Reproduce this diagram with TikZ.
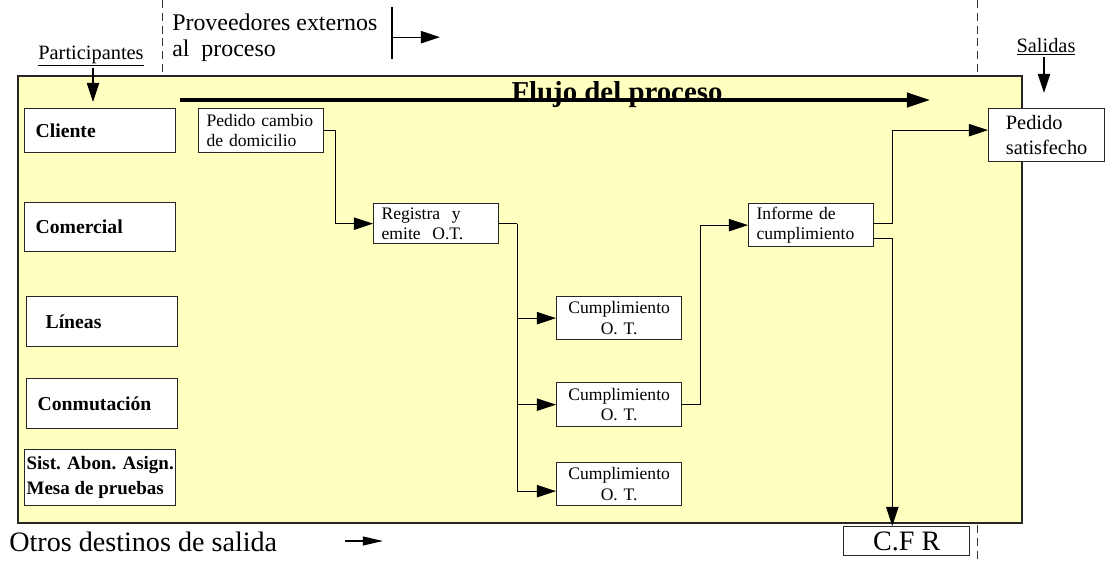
\documentclass[tikz,border=0pt]{standalone}
\usepackage{fontspec}
\setmainfont{Liberation Serif}
\usepackage{tikz}
\usetikzlibrary{positioning}
\usetikzlibrary{calc}
\usetikzlibrary{arrows.meta}
\definecolor{amarillo}{RGB}{255,255,192}

\begin{document}
\begin{tikzpicture}[x=0.025cm, y=-0.025cm,
    caja/.style={draw=black!85, line width=0.9pt, fill=white, anchor=north west, inner ysep=0pt},
    participante/.style={caja, font=\bfseries\fontsize{14}{17}\selectfont, align=left, inner xsep=0.275cm, text width=3.225cm},
    paso/.style={caja, font=\fontsize{12.5}{14.5}\selectfont, align=left, inner xsep=0.2cm, text width=2.725cm, minimum height=1.1cm},
    flecha/.style={line width=0.85pt, -{Triangle[length=0.48cm,width=0.31cm]}},
    linea/.style={line width=0.85pt},
    guia/.style={line width=0.6pt, dash pattern=on 0.2cm off 0.12cm, black!80},
    rotulo/.style={font=\fontsize{14.5}{17}\selectfont, inner sep=1pt}]
    \useasboundingbox (0,0) rectangle (1105,561);

    % guias y marco
    \draw[guia] (977,0) -- (977,561);
    \draw[guia] (162,0) -- (162,76);
    \draw[draw=black!85, line width=1pt, fill=amarillo] (18,76) rectangle (1022,523);

    % rotulos de arriba
    \node[rotulo] (partic) at (91,56) {\underline{Participantes}};
    \node[rotulo] (salidas) at (1046,47) {\underline{Salidas}};
    \node[anchor=north west, align=left, font=\fontsize{17}{18.5}\selectfont, inner sep=0pt] (prov) at (172,14) {Proveedores externos\\al\ \ proceso};
    \coordinate (provA) at (392,7);
    \coordinate (provB) at (392,59);
    \draw[linea] (provA) -- (provB);
    \draw[flecha] ($(provA)!0.58!(provB)$) -- ++(48,0);

    % flujo
    \coordinate (flujoIni) at (180,100);
    \coordinate (flujoFin) at (930,100);
    \draw[line width=2.2pt, -{Triangle[length=0.58cm,width=0.36cm]}] (flujoIni) -- (flujoFin);
    \node[font=\bfseries\fontsize{20.5}{24}\selectfont, anchor=base, inner sep=0pt] (flujo) at (617,101) {Flujo del proceso};

    % participantes
    \node[participante, minimum height=1.1cm] (cliente) at (24,108) {Cliente};
    \node[participante, minimum height=1.225cm] (comercial) at (24,202) {Comercial};
    \node[participante, minimum height=1.25cm, inner xsep=0.475cm, text width=2.825cm] (lineas) at (26,296) {Líneas};
    \node[participante, minimum height=1.25cm] (conmutacion) at (26,378) {Conmutación};
    \node[caja, align=left, minimum width=3.775cm, minimum height=1.4cm, inner xsep=0.05cm, font=\bfseries\fontsize{13.5}{18}\selectfont] (sist) at (24,449) {Sist. Abon. Asign.\\Mesa de pruebas};

    \coordinate (participa) at (93,102);
    \coordinate (salida) at (1044,93);
    \draw[flecha] (partic.south -| participa) -- (participa);
    \draw[flecha] (salidas.south -| salida) -- (salida);

    % pasos del proceso
    \node[paso] (pedido) at (198,108) {Pedido cambio\\de domicilio};
    \node[paso, minimum height=1.0cm] (registra) at (373,203) {Registra\ \ y\\emite\ \ O.T.};
    \node[paso, align=center, minimum height=1.075cm] (cumpl1) at (556,296) {Cumplimiento\\O. T.};
    \node[paso, align=center] (cumpl2) at (556,382) {Cumplimiento\\O. T.};
    \node[paso, align=center, minimum height=1.075cm] (cumpl3) at (556,462) {Cumplimiento\\O. T.};
    \node[paso, minimum height=1.075cm] (informe) at (748,203) {Informe de\\cumplimiento};
    \node[caja, align=left, minimum width=2.9cm, minimum height=1.325cm, font=\fontsize{14.5}{17.5}\selectfont] (satisfecho) at (988,108) {Pedido\\satisfecho};
    \node[caja, minimum width=3.15cm, minimum height=0.725cm, font=\fontsize{20}{22}\selectfont] (cfr) at (843,526) {C.F R};

    % conexiones
    \draw[flecha] (pedido.east) -- ++(11,0) |- (registra.west);
    \draw[linea] (registra.east) -- ++(18,0) coordinate (reparte);
    \draw[flecha] (reparte) |- (cumpl1.west);
    \draw[flecha] (reparte) |- (cumpl2.west);
    \draw[flecha] (reparte) |- ($(cumpl3.west)+(0,7)$);
    \draw[flecha] (cumpl2.east) -- ++(18,0) |- (informe.west);
    \draw[flecha] ($(informe.east)+(0,-1.5)$) -- ++(18,0) |- ($(satisfecho.west)+(0,-5)$);
    \draw[flecha] ($(informe.east)+(0,13.5)$) -- ++(18,0) coordinate (baja) -- (baja |- cfr.north);

    % otros destinos
    \node[anchor=west, font=\fontsize{20}{22}\selectfont, inner sep=0pt] (otros) at (9,542) {Otros destinos de salida};
    \coordinate (otrosA) at (345,541);
    \coordinate (otrosB) at (383,541);
    \draw[line width=0.85pt, -{Triangle[length=0.5cm,width=0.22cm]}] (otrosA) -- (otrosB);
\end{tikzpicture}
\end{document}
